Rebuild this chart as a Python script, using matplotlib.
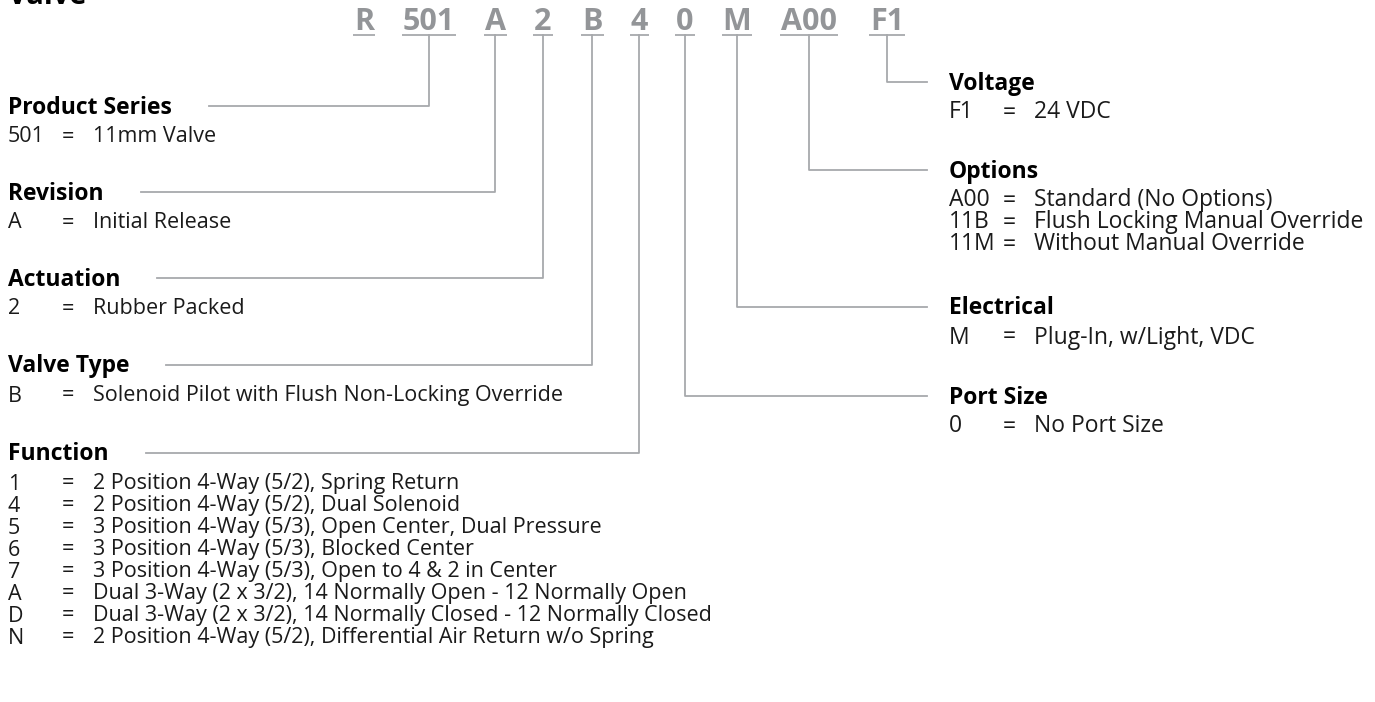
import matplotlib
matplotlib.use("Agg")
import matplotlib.pyplot as plt

plt.rcParams['font.family'] = ['Open Sans', 'DejaVu Sans']

# part number pieces
codes = ['R', '501', 'A', '2', 'B', '4', '0', 'M', 'A00', 'F1']

# left column sections (title, entries, index of code they point at)
left_titles = ['Product Series', 'Revision', 'Actuation', 'Valve Type', 'Function']
left_links = [1, 2, 3, 4, 5]
left_entries = [
    [('501', '11mm Valve')],
    [('A', 'Initial Release')],
    [('2', 'Rubber Packed')],
    [('B', 'Solenoid Pilot with Flush Non-Locking Override')],
    [('1', '2 Position 4-Way (5/2), Spring Return'),
     ('4', '2 Position 4-Way (5/2), Dual Solenoid'),
     ('5', '3 Position 4-Way (5/3), Open Center, Dual Pressure'),
     ('6', '3 Position 4-Way (5/3), Blocked Center'),
     ('7', '3 Position 4-Way (5/3), Open to 4 & 2 in Center'),
     ('A', 'Dual 3-Way (2 x 3/2), 14 Normally Open - 12 Normally Open'),
     ('D', 'Dual 3-Way (2 x 3/2), 14 Normally Closed - 12 Normally Closed'),
     ('N', '2 Position 4-Way (5/2), Differential Air Return w/o Spring')],
]

# right column sections
right_titles = ['Voltage', 'Options', 'Electrical', 'Port Size']
right_links = [9, 8, 7, 6]
right_entries = [
    [('F1', '24 VDC')],
    [('A00', 'Standard (No Options)'),
     ('11B', 'Flush Locking Manual Override'),
     ('11M', 'Without Manual Override')],
    [('M', 'Plug-In, w/Light, VDC')],
    [('0', 'No Port Size')],
]

# layout (pixels, y downwards)
W, H = 1375, 702
code_cx = [364, 429, 495.5, 543, 592.5, 639.5, 685, 737, 809, 887]
code_base = 30
uline_y = 35
left_line_y = [106, 192, 278, 365, 453]
right_line_y = [82, 170, 307, 396]
left_x, right_x = 8, 949
eq_dx, desc_dx = 54, 85
right_line_end = 927
title_to_row = 29
row_pitch = 22
head_size = 16.5
left_row_size = 15.5
right_row_size = 16.5
line_gray = '#a7a9ac'
code_gray = '#939598'
ink = '#1a1a1a'

fig = plt.figure(figsize=(W / 100, H / 100), dpi=100)
ax = fig.add_axes([0, 0, 1, 1])
ax.set_xlim(0, W)
ax.set_ylim(H, 0)
ax.axis('off')

# page title, cut off by the top edge in the source
ax.text(left_x, 4, 'Valve', fontsize=21, fontweight='bold', color='black',
        ha='left', va='baseline')

code_texts = []
for c, cx in zip(codes, code_cx):
    t = ax.text(cx, code_base, c, fontsize=22, fontweight='bold', color=code_gray,
                ha='center', va='baseline')
    code_texts.append(t)

fig.canvas.draw()
renderer = fig.canvas.get_renderer()
inv = ax.transData.inverted()


def x_span(t):
    bb = t.get_window_extent(renderer)
    (x0, _), (x1, _) = inv.transform([[bb.x0, bb.y0], [bb.x1, bb.y1]])
    return x0, x1


# underlines below each code piece
for t in code_texts:
    x0, x1 = x_span(t)
    ax.plot([x0 - 1, x1 + 1], [uline_y, uline_y], color=line_gray, lw=1.3,
            solid_capstyle='butt')


def draw_block(x, ly, title, entries, size):
    th = ax.text(x, ly + 7.5, title, fontsize=head_size, fontweight='bold',
                 color='black', ha='left', va='baseline')
    for i, (code, desc) in enumerate(entries):
        yb = ly + 7.5 + title_to_row + i * row_pitch
        ax.text(x, yb, code, fontsize=size, color=ink, ha='left', va='baseline')
        ax.text(x + eq_dx, yb, '=', fontsize=size, color=ink, ha='left', va='baseline')
        ax.text(x + desc_dx, yb, desc, fontsize=size, color=ink, ha='left', va='baseline')
    return th


left_heads = []
for title, entries, ly in zip(left_titles, left_entries, left_line_y):
    left_heads.append(draw_block(left_x, ly, title, entries, left_row_size))
for title, entries, ly in zip(right_titles, right_entries, right_line_y):
    draw_block(right_x, ly, title, entries, right_row_size)

fig.canvas.draw()

# connector lines, left side
for th, ly, k in zip(left_heads, left_line_y, left_links):
    _, x1 = x_span(th)
    vx = code_cx[k]
    ax.plot([x1 + 37, vx, vx], [ly, ly, uline_y], color=line_gray, lw=1.3)

# connector lines, right side
for ly, k in zip(right_line_y, right_links):
    vx = code_cx[k]
    ax.plot([right_line_end, vx, vx], [ly, ly, uline_y], color=line_gray, lw=1.3)

fig.savefig('out.png', dpi=100, facecolor='white')
